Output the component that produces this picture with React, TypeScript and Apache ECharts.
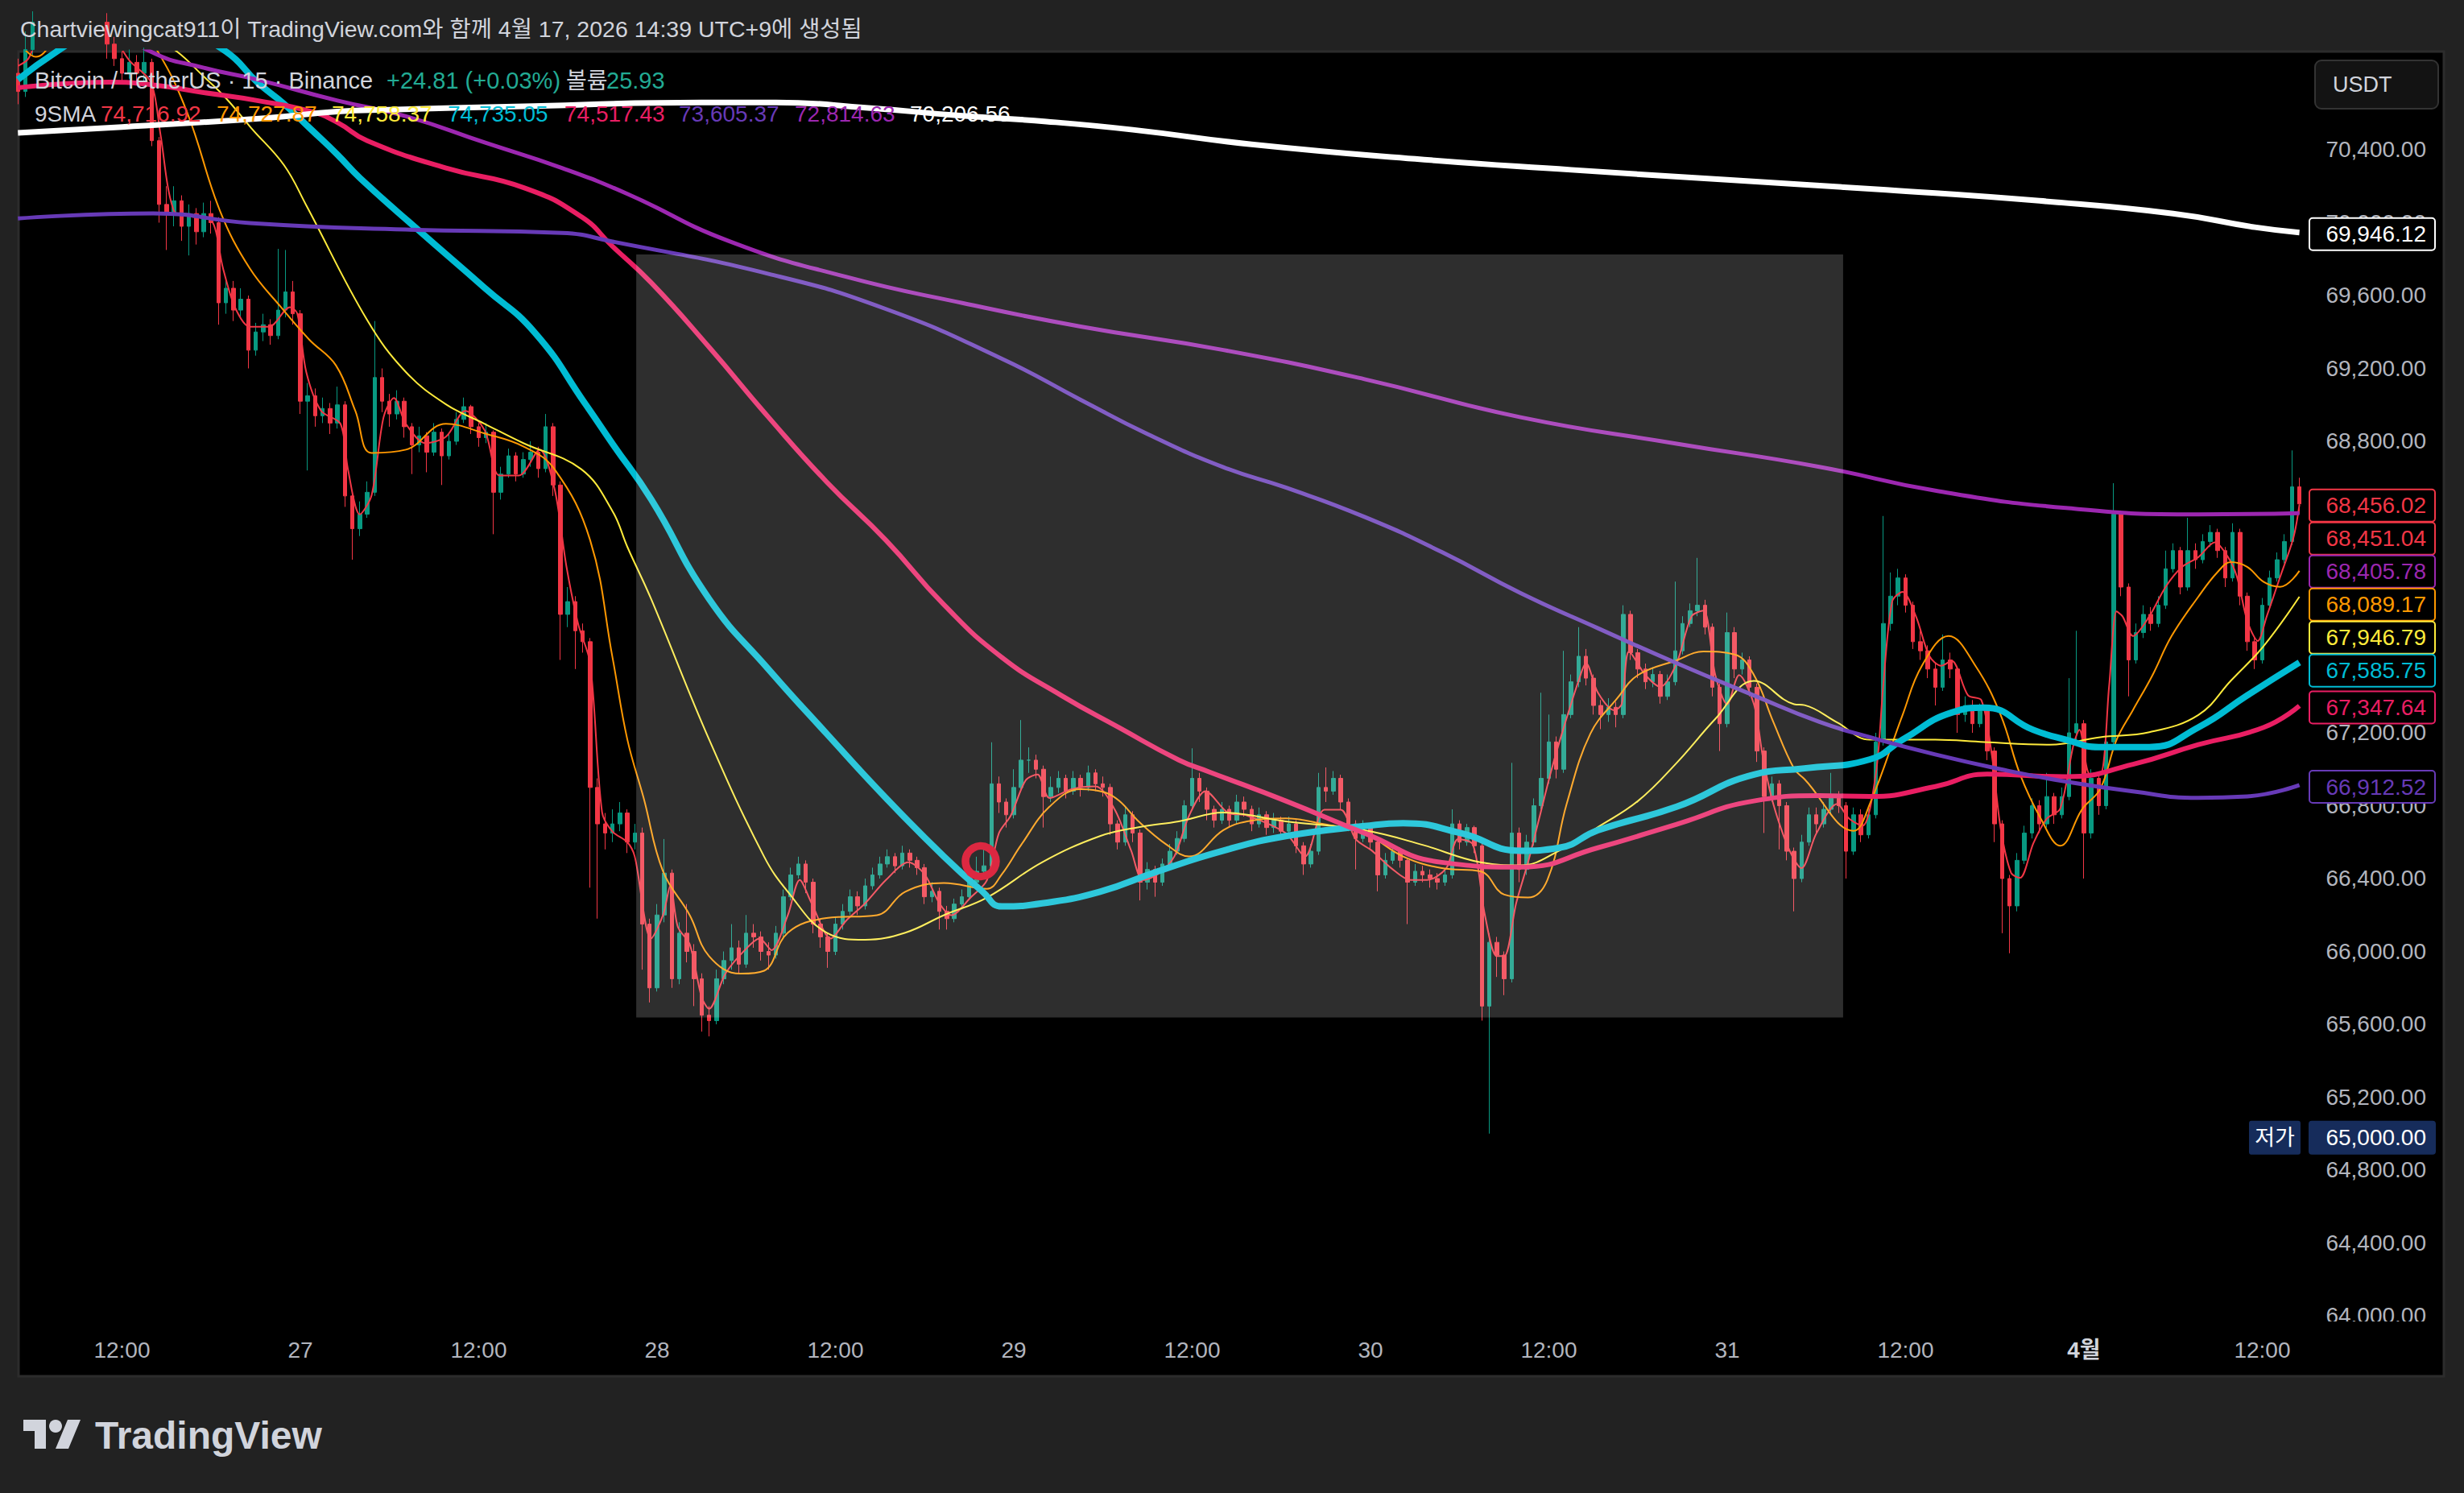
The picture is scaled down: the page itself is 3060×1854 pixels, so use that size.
import React, { useEffect, useRef } from 'react';
import * as echarts from 'echarts';

// ---------- texts ----------
const TITLE = 'Chartviewingcat911이 TradingView.com와 함께 4월 17, 2026 14:39 UTC+9에 생성됨';
const SYMBOL_TEXT = 'Bitcoin / TetherUS · 15 · Binance';
const CHANGE_TEXT = '+24.81 (+0.03%)';
const VOLUME_LABEL = '볼륨';
const VOLUME_VALUE = '25.93';
const SMA_TITLE = '9SMA';
const smaLegendValues = ['74,716.92', '74,727.87', '74,758.37', '74,735.05', '74,517.43', '73,605.37', '72,814.63', '70,206.56'];
const CURRENCY = 'USDT';
const LOW_LABEL = '저가';
const BRAND = 'TradingView';

// ---------- axes (x = hours since 26 Mar 00:00) ----------
const timeTicks = [12, 24, 36, 48, 60, 72, 84, 96, 108, 120, 132, 144, 156];
const timeTickLabels = ['12:00', '27', '12:00', '28', '12:00', '29', '12:00', '30', '12:00', '31', '12:00', '4월', '12:00'];
const priceTicks = [64000, 64400, 64800, 65200, 65600, 66000, 66400, 66800, 67200, 67600, 68000, 68400, 68800, 69200, 69600, 70000, 70400];

// ---------- candles: [hour, close, low, high]; open = previous close ----------
const firstOpen = 70820;
const candles: number[][] = [
  [5, 70720, 70650, 70900], [5.5, 70950, 70690, 71050], [6, 71100, 70920, 71160], [6.5, 71200, 71060, 71260],
  [7, 71150, 71100, 71280], [7.5, 71250, 71120, 71300], [8, 71300, 71200, 71360], [8.5, 71250, 71210, 71340],
  [9, 71200, 71150, 71290], [9.5, 71300, 71180, 71350], [10, 71250, 71200, 71330], [10.5, 71100, 71050, 71280],
  [11, 70980, 70900, 71150], [11.5, 70900, 70860, 71020], [12, 70820, 70760, 70940], [12.5, 70880, 70790, 70950],
  [13, 70820, 70760, 70920], [13.5, 70880, 70780, 70960], [14, 70450, 70420, 70900], [14.5, 70100, 70000, 70470],
  [15, 70050, 69850, 70200], [15.5, 70120, 69980, 70200], [16, 69980, 69900, 70150], [16.5, 70050, 69820, 70100],
  [17, 69950, 69880, 70080], [17.5, 70050, 69920, 70110], [18, 70000, 69940, 70120], [18.5, 69560, 69440, 70030],
  [19, 69640, 69500, 69700], [19.5, 69520, 69460, 69680], [20, 69580, 69480, 69640], [20.5, 69300, 69200, 69600],
  [21, 69400, 69270, 69450], [21.5, 69440, 69350, 69500], [22, 69380, 69330, 69470], [22.5, 69520, 69360, 69856],
  [23, 69620, 69480, 69850], [23.5, 69500, 69440, 69680], [24, 69020, 68950, 69520], [24.5, 69050, 68640, 69120],
  [25, 68940, 68880, 69090], [25.5, 68980, 68900, 69040], [26, 68900, 68840, 69010], [26.5, 69000, 68870, 69100],
  [27, 68500, 68440, 69020], [27.5, 68320, 68150, 68530], [28, 68400, 68280, 68470], [28.5, 68520, 68380, 68580],
  [29, 69150, 68500, 69460], [29.5, 69020, 68960, 69200], [30, 68950, 68880, 69060], [30.5, 69020, 68920, 69080],
  [31, 68880, 68820, 69040], [31.5, 68780, 68620, 68900], [32, 68830, 68740, 68880], [32.5, 68740, 68630, 68850],
  [33, 68850, 68720, 68900], [33.5, 68720, 68560, 68870], [34, 68800, 68700, 68850], [34.5, 68920, 68780, 68960],
  [35, 68990, 68900, 69040], [35.5, 68880, 68840, 69000], [36, 68820, 68770, 68900], [36.5, 68850, 68790, 68900],
  [37, 68520, 68290, 68860], [37.5, 68620, 68480, 68660], [38, 68720, 68600, 68760], [38.5, 68620, 68580, 68740],
  [39, 68700, 68600, 68740], [39.5, 68740, 68660, 68800], [40, 68650, 68600, 68770], [40.5, 68880, 68630, 68950],
  [41, 68560, 68500, 68900], [41.5, 67850, 67600, 68580], [42, 67920, 67780, 68000], [42.5, 67760, 67550, 67950],
  [43, 67700, 67640, 67800], [43.5, 66900, 66350, 67720], [44, 66700, 66180, 66950], [44.5, 66650, 66560, 66760],
  [45, 66700, 66600, 66780], [45.5, 66760, 66660, 66820], [46, 66600, 66540, 66780], [46.5, 66650, 66560, 66700],
  [47, 66150, 65900, 66680], [47.5, 65800, 65720, 66180], [48, 66200, 65780, 66260], [48.5, 66430, 66160, 66617],
  [49, 65850, 65800, 66450], [49.5, 66100, 65820, 66160], [50, 66000, 65940, 66260], [50.5, 65850, 65700, 66040],
  [51, 65650, 65560, 65880], [51.5, 65620, 65534, 65700], [52, 65850, 65600, 65900], [52.5, 65950, 65820, 66000],
  [53, 66020, 65900, 66150], [53.5, 65930, 65880, 66060], [54, 66100, 65910, 66200], [54.5, 66080, 66020, 66150],
  [55, 66000, 65950, 66110], [55.5, 65980, 65900, 66050], [56, 66100, 65960, 66140], [56.5, 66300, 66080, 66340],
  [57, 66420, 66280, 66460], [57.5, 66480, 66400, 66520], [58, 66380, 66320, 66500], [58.5, 66150, 66100, 66400],
  [59, 66080, 66020, 66180], [59.5, 66000, 65910, 66100], [60, 66150, 65980, 66190], [60.5, 66220, 66120, 66260],
  [61, 66300, 66200, 66340], [61.5, 66250, 66200, 66330], [62, 66360, 66230, 66400], [62.5, 66420, 66340, 66460],
  [63, 66480, 66400, 66520], [63.5, 66520, 66460, 66560], [64, 66470, 66430, 66540], [64.5, 66540, 66450, 66580],
  [65, 66500, 66460, 66560], [65.5, 66460, 66420, 66520], [66, 66300, 66260, 66480], [66.5, 66330, 66270, 66380],
  [67, 66220, 66120, 66350], [67.5, 66180, 66120, 66250], [68, 66260, 66160, 66290], [68.5, 66300, 66230, 66340],
  [69, 66380, 66280, 66410], [69.5, 66440, 66360, 66520], [70, 66470, 66400, 66560], [70.5, 66920, 66450, 67148],
  [71, 66820, 66760, 66960], [71.5, 66750, 66680, 66840], [72, 66900, 66730, 67000], [72.5, 67050, 66880, 67270],
  [73, 67050, 66980, 67120], [73.5, 67000, 66950, 67080], [74, 66850, 66680, 67020], [74.5, 66900, 66820, 66960],
  [75, 66950, 66870, 66990], [75.5, 66880, 66840, 66970], [76, 66950, 66860, 66990], [76.5, 66900, 66850, 66970],
  [77, 66980, 66880, 67020], [77.5, 66920, 66880, 67000], [78, 66900, 66850, 66960], [78.5, 66700, 66640, 66920],
  [79, 66600, 66560, 66720], [79.5, 66750, 66580, 66790], [80, 66650, 66600, 66770], [80.5, 66380, 66280, 66670],
  [81, 66450, 66340, 66490], [81.5, 66380, 66300, 66470], [82, 66480, 66360, 66510], [82.5, 66550, 66450, 66590],
  [83, 66620, 66530, 66660], [83.5, 66800, 66600, 66830], [84, 66950, 66780, 67115], [84.5, 66880, 66820, 66980],
  [85, 66780, 66720, 66900], [85.5, 66720, 66680, 66800], [86, 66780, 66700, 66820], [86.5, 66720, 66680, 66800],
  [87, 66820, 66700, 66860], [87.5, 66780, 66740, 66850], [88, 66700, 66660, 66800], [88.5, 66750, 66680, 66790],
  [89, 66680, 66640, 66770], [89.5, 66720, 66650, 66760], [90, 66660, 66620, 66740], [90.5, 66700, 66640, 66740],
  [91, 66580, 66540, 66720], [91.5, 66480, 66420, 66600], [92, 66550, 66460, 66590], [92.5, 66900, 66530, 66980],
  [93, 66880, 66820, 67010], [93.5, 66950, 66860, 66990], [94, 66820, 66780, 66970], [94.5, 66700, 66660, 66840],
  [95, 66620, 66450, 66720], [95.5, 66680, 66600, 66720], [96, 66600, 66560, 66700], [96.5, 66420, 66330, 66620],
  [97, 66500, 66400, 66540], [97.5, 66550, 66480, 66590], [98, 66500, 66460, 66570], [98.5, 66380, 66150, 66510],
  [99, 66440, 66360, 66480], [99.5, 66420, 66380, 66470], [100, 66400, 66350, 66450], [100.5, 66380, 66340, 66430],
  [101, 66420, 66360, 66450], [101.5, 66700, 66400, 66780], [102, 66600, 66560, 66720], [102.5, 66680, 66580, 66700],
  [103, 66580, 66540, 66690], [103.5, 65700, 65620, 66600], [104, 66050, 65000, 66100], [104.5, 65980, 65860, 66080],
  [105, 65850, 65760, 66000], [105.5, 66650, 65830, 67035], [106, 66450, 66380, 66680], [106.5, 66600, 66420, 66640],
  [107, 66800, 66580, 66840], [107.5, 66950, 66780, 67420], [108, 67150, 66920, 67300], [108.5, 67000, 66950, 67180],
  [109, 67300, 66980, 67650], [109.5, 67480, 67280, 67520], [110, 67620, 67450, 67780], [110.5, 67500, 67460, 67660],
  [111, 67350, 67300, 67520], [111.5, 67300, 67220, 67380], [112, 67340, 67260, 67390], [112.5, 67300, 67230, 67370],
  [113, 67850, 67280, 67900], [113.5, 67640, 67600, 67870], [114, 67550, 67500, 67660], [114.5, 67480, 67440, 67580],
  [115, 67520, 67450, 67560], [115.5, 67400, 67360, 67540], [116, 67480, 67380, 67520], [116.5, 67650, 67460, 68030],
  [117, 67800, 67630, 67840], [117.5, 67870, 67780, 67910], [118, 67900, 67840, 68160], [118.5, 67780, 67740, 67930],
  [119, 67450, 67400, 67800], [119.5, 67250, 67100, 67470], [120, 67750, 67230, 67860], [120.5, 67550, 67500, 67780],
  [121, 67600, 67520, 67640], [121.5, 67450, 67400, 67620], [122, 67100, 67040, 67470], [122.5, 66850, 66650, 67120],
  [123, 66920, 66820, 66960], [123.5, 66800, 66560, 66940], [124, 66550, 66500, 66820], [124.5, 66400, 66220, 66570],
  [125, 66600, 66380, 66640], [125.5, 66750, 66580, 66790], [126, 66700, 66640, 66790], [126.5, 66780, 66680, 66820],
  [127, 66850, 66750, 66980], [127.5, 66800, 66760, 66880], [128, 66550, 66400, 66820], [128.5, 66750, 66530, 66790],
  [129, 66640, 66600, 66780], [129.5, 66750, 66620, 66790], [130, 67150, 66730, 67200], [130.5, 67800, 67130, 68390],
  [131, 67950, 67760, 68080], [131.5, 68050, 67900, 68100], [132, 67900, 67860, 68070], [132.5, 67700, 67660, 67920],
  [133, 67650, 67600, 67760], [133.5, 67550, 67500, 67680], [134, 67450, 67350, 67580], [134.5, 67600, 67430, 67740],
  [135, 67550, 67500, 67640], [135.5, 67300, 67200, 67560], [136, 67350, 67260, 67400], [136.5, 67250, 67200, 67380],
  [137, 67320, 67230, 67360], [137.5, 67100, 67050, 67340], [138, 66700, 66600, 67120], [138.5, 66400, 66100, 66720],
  [139, 66250, 65990, 66420], [139.5, 66500, 66220, 66540], [140, 66650, 66480, 66690], [140.5, 66800, 66620, 66840],
  [141, 66700, 66650, 66830], [141.5, 66850, 66680, 66980], [142, 66750, 66700, 66870], [142.5, 66850, 66730, 66900],
  [143, 67200, 66830, 67500], [143.5, 67250, 67150, 67760], [144, 66650, 66400, 67270], [144.5, 66950, 66620, 67000],
  [145, 66800, 66750, 66980], [145.5, 67150, 66780, 67200], [146, 68400, 67130, 68570], [146.5, 68000, 67950, 68420],
  [147, 67600, 67400, 68020], [147.5, 67750, 67580, 67800], [148, 67850, 67720, 67900], [148.5, 67800, 67760, 67890],
  [149, 67900, 67780, 67950], [149.5, 68100, 67880, 68200], [150, 68200, 68080, 68240], [150.5, 68000, 67960, 68220],
  [151, 68200, 67980, 68380], [151.5, 68150, 68100, 68240], [152, 68250, 68130, 68290], [152.5, 68300, 68220, 68340],
  [153, 68200, 68160, 68320], [153.5, 68050, 68000, 68220], [154, 68300, 68030, 68350], [154.5, 67950, 67900, 68320],
  [155, 67700, 67650, 67970], [155.5, 67600, 67550, 67720], [156, 67900, 67580, 67940], [156.5, 68050, 67880, 68090],
  [157, 68150, 68030, 68190], [157.5, 68250, 68130, 68290], [158, 68550, 68230, 68750], [158.5, 68456, 68400, 68600],
];

// ---------- moving averages: [hour, value] ----------
const smaRed = [
  [5, 70860], [5.7, 70900], [6.5, 71050], [8, 71200], [10, 71220], [11.5, 71020], [12.5, 70890], [13.8, 70790],
  [14.2, 70700], [14.6, 70480], [15.5, 70064], [16.7, 70033], [18, 70015], [18.8, 69749], [19.6, 69536], [20.6, 69429], [21.9, 69429],
  [23.3, 69536], [23.8, 69500], [24.4, 69180], [25.4, 68967], [26.7, 68896], [27.2, 68648], [28, 68399], [28.8, 68505],
  [29.6, 68932], [30.3, 69038], [31.1, 68896], [32.4, 68790], [33.8, 68825], [35.1, 68967], [36.4, 68861], [37.4, 68612],
  [38.7, 68612], [40.1, 68754], [41.1, 68541], [41.9, 68115], [42.7, 67795], [43.5, 67582], [44.3, 66765], [45, 66658],
  [46, 66600], [46.5, 66521], [47.6, 66071], [48.4, 66199], [48.9, 66360], [49.4, 66135], [50.2, 66039], [51, 65749],
  [51.5, 65685], [52.6, 65878], [53.9, 66007], [54.9, 66071], [55.7, 66007], [56.8, 66199], [57.6, 66392], [58.4, 66264],
  [59.7, 66071], [60.7, 66167], [62, 66264], [63.4, 66392], [64.9, 66489], [66, 66424], [67, 66264], [67.8, 66199],
  [69.1, 66296], [70.2, 66392], [71, 66649], [71.8, 66746], [72.8, 66939], [73.6, 66971], [74.4, 66842], [75.9, 66891],
  [77.5, 66906], [78.8, 66778], [79.9, 66553], [80.7, 66392], [81.7, 66424], [82.8, 66521], [83.8, 66746], [84.9, 66880],
  [86.4, 66762], [87.7, 66746], [90.3, 66649], [91.6, 66521], [92.9, 66778], [94, 66778], [95, 66617], [96.1, 66553],
  [97.4, 66457], [98.7, 66392], [99.8, 66392], [101.1, 66457], [101.9, 66617], [102.9, 66585], [103.7, 66199], [104.5, 65974],
  [105, 65974], [105.8, 66264], [106.6, 66489], [107.4, 66746], [108.2, 67003], [109, 67228], [110, 67485], [110.5, 67582],
  [111.3, 67421], [112.4, 67324], [112.9, 67357], [113.4, 67646], [114.5, 67517], [115.5, 67453], [116.6, 67582], [117.6, 67839],
  [118.4, 67871], [119.2, 67517], [120, 67357], [120.8, 67517], [121.8, 67357], [122.4, 67067], [123.1, 66810], [124.2, 66553],
  [125, 66457], [126, 66648], [127.4, 66810], [128.2, 66729], [129.1, 66689], [130, 66973], [130.5, 67460], [131.1, 67920],
  [131.8, 67974], [132.7, 67839], [133.6, 67622], [134.4, 67568], [135.1, 67596], [136.2, 67406], [137.1, 67379], [137.8, 67081],
  [138.4, 66675], [139.1, 66431], [139.7, 66404], [140.6, 66594], [141.5, 66729], [142.4, 66783], [143.3, 67135], [143.7, 67216],
  [144.4, 66973], [145.1, 66973], [145.7, 67460], [146.2, 67866], [146.6, 67839], [147.3, 67731], [148.4, 67839], [149.5, 68001],
  [150.6, 68110], [151.7, 68164], [152.8, 68245], [153.7, 68164], [154.3, 68055], [155, 67812], [155.7, 67704], [156.3, 67839],
  [157.2, 68055], [158.1, 68272], [158.5, 68451],
];
const smaOrange = [
  [5, 71000], [6.2, 70910], [8, 71050], [11, 71150], [13, 71060], [14.4, 70940], [16.4, 70602], [18.6, 70064], [20.6, 69749],
  [22.7, 69536], [24.6, 69358], [26.4, 69216], [27.7, 68967], [28.8, 68736], [31.1, 68754], [33.8, 68896], [36.4, 68843],
  [39, 68772], [41.1, 68647], [43.5, 68257], [45, 67615], [46, 67164], [47.1, 66842], [48.4, 66440], [50.2, 66199],
  [51.5, 65974], [53.6, 65878], [55.2, 65894], [56.8, 66103], [59.4, 66183], [62.8, 66199], [64.7, 66328], [67.3, 66376],
  [70.2, 66344], [71.2, 66424], [72.5, 66585], [74.4, 66794], [76.5, 66891], [78.1, 66874], [79.1, 66826], [80.4, 66714],
  [82.3, 66585], [83.8, 66521], [86.1, 66666], [87.7, 66714], [90.3, 66730], [92.9, 66698], [95.6, 66649], [98.2, 66521],
  [100.8, 66457], [103.4, 66440], [105, 66312], [106.6, 66296], [107.9, 66392], [109.2, 66810], [110.8, 67196], [112.6, 67389],
  [114, 67517], [116.6, 67598], [118.4, 67646], [120.5, 67630], [121.8, 67517], [123.1, 67260], [124.5, 67003], [125.2, 66946],
  [128.5, 66662], [129.6, 66810], [131.8, 67298], [133.1, 67568], [134.9, 67731], [136.7, 67568], [138.4, 67298], [139.7, 66973],
  [141.1, 66729], [142.4, 66580], [143.9, 66783], [145.1, 66892], [146.2, 67162], [147.3, 67325], [148.6, 67514], [149.9, 67731],
  [151.7, 67947], [153, 68083], [153.9, 68137], [155, 68110], [156.1, 68028], [157.2, 68001], [158.5, 68089],
];
const smaYellow = [
  [5, 71400], [10, 71200], [13.5, 71050], [15.7, 70939], [17.5, 70802], [19, 70683], [20.7, 70519], [22.9, 70316],
  [24.4, 70095], [28.5, 69465], [31.1, 69180],
  [33.8, 69003], [36.4, 68896], [39, 68790], [42.9, 68647], [45, 68417], [46, 68221], [47.6, 67935], [51.5, 67164],
  [55.2, 66521], [56.8, 66328], [59.4, 66103], [62, 66064], [64.7, 66103], [67.3, 66199], [70.2, 66296], [73.9, 66489],
  [77.8, 66633], [80.4, 66682], [83.1, 66714], [86.1, 66762], [90.3, 66714], [95.6, 66665], [99.5, 66585], [103.4, 66489],
  [106.1, 66473], [108.7, 66553], [111.3, 66682], [114, 66826], [116.6, 67035], [119.2, 67276], [121.8, 67485], [124.5, 67357],
  [125.2, 67352], [127.4, 67257], [129.6, 67162], [134, 67162], [137.3, 67149], [141.7, 67135], [145.1, 67176], [148.4, 67203],
  [151.7, 67298], [153.9, 67487], [156.1, 67677], [158.5, 67947],
];
const smaCyan = [
  [5, 70785], [7.6, 70939], [10, 71050], [13, 71120], [16, 71060], [19, 70939], [21.1, 70771], [22.9, 70652],
  [24.8, 70506], [26.5, 70373], [28, 70246],
  [31.9, 69962], [36.4, 69642], [39.8, 69394], [43.2, 69002], [45, 68787], [47.6, 68482], [51.5, 67935], [55.5, 67549],
  [59.4, 67196], [63.4, 66842], [67.3, 66521], [69.9, 66328], [71.2, 66247], [73.9, 66264], [77.8, 66328], [81.7, 66440],
  [86.1, 66553], [90.3, 66633], [95.6, 66688], [98.2, 66704], [102.1, 66649], [106.1, 66553], [108.7, 66569], [111.3, 66665],
  [116.6, 66794], [121.8, 66971], [125.2, 67005], [129.6, 67054], [131.8, 67162], [135.1, 67311], [137.3, 67338], [140.6, 67216],
  [142.8, 67162], [145, 67122], [148.4, 67122], [151.7, 67230], [155, 67406], [158.5, 67586],
];
const smaPink = [
  [5, 70740], [11.2, 70771], [13.9, 70758], [17.5, 70714], [21.1, 70670], [24.8, 70608], [26.5, 70550], [28.5, 70450],
  [33.8, 70300], [39, 70193], [42.9, 70033],
  [45, 69870], [47.6, 69671], [51.5, 69317], [55.5, 68932], [59.4, 68578], [63.4, 68257], [67.3, 67903], [71.2, 67614],
  [75.2, 67405], [79.1, 67228], [83.1, 67051], [85.1, 66987], [90.3, 66826], [95.6, 66649], [100.8, 66489], [106.1, 66463],
  [111.3, 66569], [116.6, 66698], [121.8, 66826], [126.2, 66855], [129.6, 66851], [134, 66905], [137.5, 66973], [142.8, 66959],
  [147.3, 67027], [151.7, 67135], [156.1, 67230], [158.5, 67348],
];
const smaViolet = [
  [5, 70023], [14.1, 70051], [20.6, 69998], [31.1, 69962], [41.6, 69944], [45, 69896], [55.5, 69719], [63.4, 69526],
  [71.2, 69253], [76.5, 69028], [81, 68840], [86.1, 68658], [90.3, 68546], [95.6, 68385], [100.8, 68192], [106.1, 67967],
  [111.3, 67774], [116.6, 67582], [121.8, 67405], [126.2, 67260], [129.6, 67176], [134, 67081], [138.4, 67000], [142.8, 66932],
  [147.3, 66878], [151.7, 66843], [155, 66851], [158.5, 66913],
];
const smaPurple = [
  [5, 71400], [10, 71150], [13.9, 70940], [17.5, 70850], [21.1, 70785], [26.5, 70670], [31.1, 70584], [36.4, 70440], [41.6, 70300],
  [46, 70158], [52.8, 69900], [60.7, 69703], [68.6, 69558], [76.5, 69430], [86.1, 69301], [95.6, 69141], [106.1, 68932],
  [116.6, 68787], [126.2, 68660], [134, 68529], [142.8, 68434], [151.7, 68399], [158.5, 68406],
];
const smaWhite = [
  [5, 70493], [12, 70525], [21.8, 70575], [26.5, 70610], [30, 70620], [39.7, 70640], [51, 70660], [56, 70660], [62.2, 70630],
  [68, 70590], [74.2, 70555], [80, 70510], [88, 70430], [99, 70350], [109.5, 70290], [120, 70235], [130.7, 70180],
  [141, 70120], [150, 70050], [155.5, 69975], [158.5, 69946],
];

// ---------- annotations ----------
const priceTagValues = [69946.12, 68456.02, 68451.04, 68405.78, 68089.17, 67946.79, 67585.75, 67347.64, 66912.52];
const lowValue = 65000;
const zoneCorners = [[46.6, 69825], [127.8, 65637]];
const markerPoint = [69.78, 66495];

// ---------- styles ----------
const FONT = '"Liberation Sans", "Noto Sans CJK KR", sans-serif';
const UP = '#089981';
const DOWN = '#f23645';
const smaSets = [smaRed, smaOrange, smaYellow, smaCyan, smaPink, smaViolet, smaPurple, smaWhite];
const smaColors = ['#f23645', '#ff9800', '#ffeb3b', '#00bcd4', '#e91e63', '#673ab7', '#9c27b0', '#ffffff'];
const smaWidths = [2, 2, 2, 8, 6, 5, 5, 7];
const smaSmooth = [0.3, 0.4, 0.4, 0.5, 0.5, 0.5, 0.5, 0.5];
const priceTagColors = ['#ffffff', '#f23645', '#f23645', '#9c27b0', '#ff9800', '#ffeb3b', '#00bcd4', '#e91e63', '#673ab7'];
const X_MIN = 5.04;
const X_MAX = 158.9;
const Y_MIN = 63964.6;
const Y_MAX = 70939.2;

const fmtPrice = (v: number) => v.toLocaleString('en-US', { minimumFractionDigits: 2, maximumFractionDigits: 2 });

echarts.graphic.registerShape(
  'tvlogo',
  echarts.graphic.extendPath('M14 22H7V11H0V4h14v18zM28 22h-8l7.5-18h8L28 22z', {})
);

function textEl(text: string, x: number, y: number, fill: string, size: number, align = 'left', weight = 'normal', z = 100) {
  return {
    type: 'text',
    z,
    silent: true,
    style: {
      text, x, y, fill, fontSize: size, fontFamily: FONT, fontWeight: weight,
      align, verticalAlign: 'middle', textAlign: align, textVerticalAlign: 'middle',
    },
  };
}

export default function App() {
  const ref = useRef<HTMLDivElement>(null);

  useEffect(() => {
    const chart = echarts.init(ref.current!, null, { renderer: 'svg', width: 3060, height: 1854 });

    const ohlc = candles.map((r, i) => {
      const o = i === 0 ? firstOpen : candles[i - 1][1];
      const c = r[1];
      return [r[0], o, c, Math.min(r[2], o, c), Math.max(r[3], o, c)];
    });

    const yAxisLabel = (values: number[]) => ({
      customValues: values,
      formatter: (v: number) => fmtPrice(v),
      color: '#b2b5be', fontSize: 28, fontFamily: FONT, align: 'right', margin: 150, verticalAlign: 'middle',
    });

    const option: any = {
      animation: false,
      backgroundColor: '#222222',
      grid: { left: 23, right: 197, top: 64, bottom: 212, containLabel: false, outerBoundsMode: 'none' },
      xAxis: {
        type: 'value', min: X_MIN, max: X_MAX, z: 5,
        axisLine: { show: false }, axisTick: { show: false }, splitLine: { show: false },
        axisLabel: {
          customValues: timeTicks,
          formatter: (v: number) => {
            const idx = timeTicks.indexOf(Math.round(v));
            const t = idx >= 0 ? timeTickLabels[idx] : '';
            return t === '4월' ? '{b|' + t + '}' : t;
          },
          color: '#b2b5be', fontSize: 28, fontFamily: FONT, margin: 34, verticalAlign: 'middle',
          rich: { b: { fontWeight: 'bold', color: '#d1d4dc', fontSize: 28, fontFamily: FONT } },
        },
      },
      yAxis: {
        type: 'value', position: 'right', min: Y_MIN, max: Y_MAX, z: 5,
        axisLine: { show: false }, axisTick: { show: false }, splitLine: { show: false },
        axisLabel: yAxisLabel(priceTicks),
      },
      series: [
        {
          type: 'candlestick', data: ohlc, encode: { x: 0, y: [1, 2, 3, 4] }, barWidth: 5, z: 2, silent: true,
          itemStyle: { color: UP, color0: DOWN, borderColor: UP, borderColor0: DOWN, borderWidth: 1 },
        },
        ...smaSets.map((d, i) => ({
          type: 'line', data: d, showSymbol: false, symbol: 'none', smooth: smaSmooth[i],
          silent: true, z: 3 + i, lineStyle: { color: smaColors[i], width: smaWidths[i], join: 'round' },
        })),
        {
          type: 'line', data: [zoneCorners[0]], symbol: 'none', silent: true, z: 20,
          lineStyle: { opacity: 0 },
          markArea: {
            silent: true, z: 50,
            itemStyle: { color: 'rgba(255,255,255,0.18)' },
            data: [[{ coord: zoneCorners[0] }, { coord: zoneCorners[1] }]],
          },
        },
        {
          type: 'scatter', data: [markerPoint], symbol: 'circle', symbolSize: 38, z: 200, silent: true,
          itemStyle: { color: 'rgba(0,0,0,0)', borderColor: '#dc2841', borderWidth: 9.5, opacity: 1 },
        },
      ],
    };
    chart.setOption(option);

    const yPix = (v: number) => chart.convertToPixel({ yAxisIndex: 0 }, v) as number;
    const tagYs: number[] = [];
    const order = priceTagValues.map((_, i) => i).sort((a, b) => priceTagValues[b] - priceTagValues[a]);
    let prev = -1e9;
    for (const i of order) {
      let y = yPix(priceTagValues[i]) + 2;
      if (y < prev + 41) y = prev + 41;
      tagYs[i] = y;
      prev = y;
    }
    // tick labels that are completely hidden behind the price tags are left out
    const covered = (y: number) => tagYs.some((ty) => y >= ty - 21.5 && y <= ty + 21.5);
    const shownTicks = priceTicks.filter((v) => {
      const y = yPix(v);
      for (let k = -9; k <= 9; k++) if (!covered(y + k)) return true;
      return false;
    });

    const g: any[] = [];
    // chart panel
    g.push({ type: 'rect', z: -1, silent: true, shape: { x: 23, y: 64, width: 3012, height: 1645 }, style: { fill: '#000000', stroke: '#2c2c2c', lineWidth: 3 } });
    // title
    g.push(textEl(TITLE, 25, 36, '#d1d4dc', 28.5));
    // legend row 1
    g.push(textEl(SYMBOL_TEXT, 43, 100, '#d1d4dc', 29));
    g.push(textEl(CHANGE_TEXT, 480, 100, '#22ab94', 29));
    g.push(textEl(VOLUME_LABEL, 703, 100, '#d1d4dc', 28));
    g.push(textEl(VOLUME_VALUE, 753, 100, '#22ab94', 29));
    // legend row 2
    g.push(textEl(SMA_TITLE, 43, 141, '#d1d4dc', 28));
    const legendX = [125, 269, 412, 556, 701, 843, 987, 1130];
    smaLegendValues.forEach((t, i) => g.push(textEl(t, legendX[i], 141, smaColors[i], 28)));
    // currency button
    g.push({ type: 'rect', z: 100, silent: true, shape: { x: 2875, y: 75, width: 153, height: 60, r: 8 }, style: { fill: '#131313', stroke: '#333333', lineWidth: 2 } });
    g.push(textEl(CURRENCY, 2897, 105, '#d1d4dc', 27));
    // price tags
    priceTagValues.forEach((v, i) => {
      g.push({ type: 'rect', z: 100, silent: true, shape: { x: 2868, y: tagYs[i] - 20, width: 156, height: 40, r: 4 }, style: { fill: '#000000', stroke: priceTagColors[i], lineWidth: 2 } });
      g.push(textEl(fmtPrice(v), 3013, tagYs[i], priceTagColors[i], 28, 'right', 'normal', 101));
    });
    // low marker
    const ly = yPix(lowValue) + 5;
    g.push({ type: 'rect', z: 100, silent: true, shape: { x: 2793, y: ly - 21, width: 64, height: 42, r: 3 }, style: { fill: '#162c5b' } });
    g.push(textEl(LOW_LABEL, 2825, ly, '#ffffff', 27, 'center', 'normal', 101));
    g.push({ type: 'rect', z: 100, silent: true, shape: { x: 2867, y: ly - 21, width: 158, height: 42, r: 4 }, style: { fill: '#162c5b' } });
    g.push(textEl(fmtPrice(lowValue), 3013, ly, '#ffffff', 28, 'right', 'normal', 101));
    // bottom clip of the last price label
    g.push({ type: 'rect', z: 100, silent: true, shape: { x: 2865, y: 1641, width: 168, height: 24 }, style: { fill: '#000000' } });
    // brand
    g.push({ type: 'tvlogo', z: 100, silent: true, x: 29, y: 1755, scaleX: 2, scaleY: 2, style: { fill: '#d1d4dc' } });
    g.push({ type: 'circle', z: 100, silent: true, shape: { cx: 69, cy: 1771, r: 8 }, style: { fill: '#d1d4dc' } });
    g.push(textEl(BRAND, 118, 1782, '#d1d4dc', 48, 'left', 'bold'));

    chart.setOption({ graphic: g, yAxis: { axisLabel: yAxisLabel(shownTicks) } });

    return () => chart.dispose();
  }, []);

  return (
    <div style={{ position: 'fixed', left: 0, top: 0, width: 3060, height: 1854, background: '#222222' }}>
      <div ref={ref} style={{ width: 3060, height: 1854 }} />
    </div>
  );
}
